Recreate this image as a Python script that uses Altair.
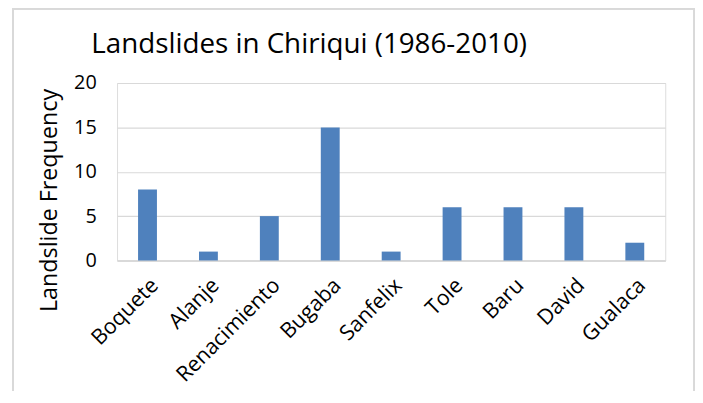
import altair as alt
import pandas as pd

districts = ["Boquete", "Alanje", "Renacimiento", "Bugaba", "Sanfelix", "Tole", "Baru", "David", "Gualaca"]
frequency = [8, 1, 5, 15, 1, 6, 6, 6, 2]
y_ticks = [0, 5, 10, 15, 20]

df = pd.DataFrame({"district": districts, "freq": frequency})

FONT = "Open Sans"
W, H = 553, 179

bars = alt.Chart(df).mark_bar(color="#4F81BD").encode(
    x=alt.X("district:N", sort=districts, title=None,
            scale=alt.Scale(paddingInner=0.69, paddingOuter=0.345),
            axis=alt.Axis(labelAngle=-45, labelAlign="right", labelBaseline="top",
                          labelPadding=14, ticks=False, domainColor="#d9d9d9", domainWidth=2,
                          labelFont=FONT, labelFontSize=21.5, labelColor="#000000")),
    y=alt.Y("freq:Q", title="Landslide Frequency",
            scale=alt.Scale(domain=[0, 20], nice=False),
            axis=alt.Axis(values=y_ticks, ticks=False, domain=False, gridColor="#d9d9d9",
                          gridWidth=1.2, labelPadding=21, labelFont=FONT, labelFontSize=20,
                          labelColor="#000000", titleFont=FONT, titleFontSize=23.5,
                          titleFontWeight="normal", titleColor="#000000",
                          titleX=-68, titleY=118, titleAlign="center", titleBaseline="middle",
                          titleAngle=270)),
)

frame = alt.Chart(df).mark_rect(fill=None, stroke="#d9d9d9", strokeWidth=1.5, clip=False).encode(
    x=alt.value(-105), x2=alt.value(582), y=alt.value(-75), y2=alt.value(321)
)

chart = alt.layer(frame, bars).properties(
    width=W, height=H,
    title=alt.TitleParams("Landslides in Chiriqui (1986-2010)", anchor="start", frame="group",
                          dx=-26, font=FONT, fontSize=28, fontWeight="normal", color="#000000",
                          offset=-51),
    padding={"left": 110, "top": 74, "right": 30, "bottom": 130},
    autosize=alt.AutoSizeParams(type="none"),
).configure_view(stroke=None).configure(background="white")

chart.save("out.html", embed_options={"renderer": "svg", "actions": False})
